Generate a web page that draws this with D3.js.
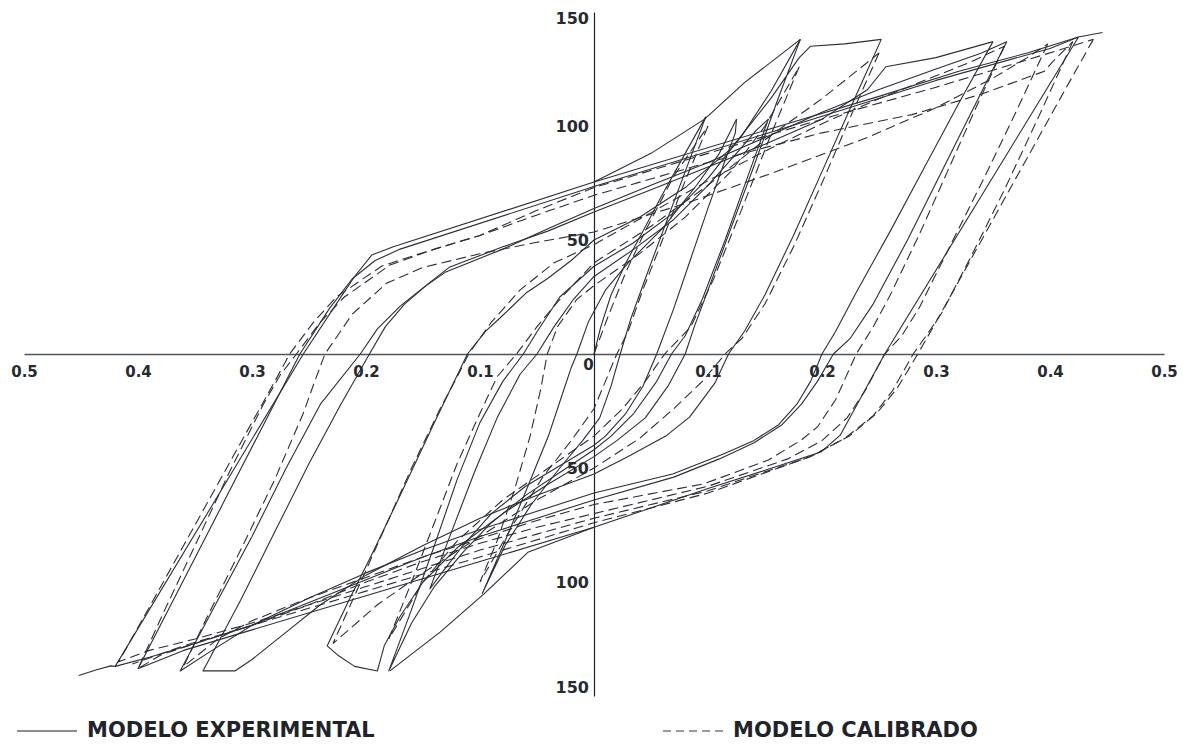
<!DOCTYPE html>
<html>
<head>
<meta charset="utf-8">
<script src="https://cdn.jsdelivr.net/npm/d3@7"></script>
<style>
  html, body { margin: 0; padding: 0; background: #ffffff; }
  svg { display: block; }
  .tick text { font-family: "DejaVu Sans", sans-serif; font-weight: bold; fill: #262a31; }
</style>
</head>
<body>
<svg id="chart" width="1183" height="744"></svg>
<script>
// Axis ticks and their printed labels (magnitudes only, as printed on the chart)
const xTicks = [-0.5, -0.4, -0.3, -0.2, -0.1, 0, 0.1, 0.2, 0.3, 0.4, 0.5];
const xTickLabels = ["0.5", "0.4", "0.3", "0.2", "0.1", "0", "0.1", "0.2", "0.3", "0.4", "0.5"];
const yTicks = [150, 100, 50, -50, -100, -150];
const yTickLabels = ["150", "100", "50", "50", "100", "150"];

const legendLabels = ["MODELO EXPERIMENTAL", "MODELO CALIBRADO"];

// Experimental hysteresis record [displacement, force], one array per cycle
const expVirgin = [[0,0],[0.006,12],[0.015,26],[0.028,40],[0.042,53],[0.06,70],[0.08,88],[0.098,104]];
const expCycle1 = [[0.098,104],[0.08,80],[0.062,56],[0.045,33],[0.032,15],[0.023,0],[0.015,-14],[0.005,-28],[-0.01,-38],[-0.03,-50],[-0.055,-66],[-0.078,-84],[-0.098,-105],
  [-0.078,-82],[-0.058,-58],[-0.04,-36],[-0.028,-18],[-0.02,-6],[-0.015,0],[-0.005,14],[0.01,28],[0.03,40],[0.06,55],[0.09,74],[0.11,88],[0.125,103]];
const expCycle2 = [[0.125,103],[0.124,97],[0.115,85],[0.1,64],[0.085,42],[0.07,20],[0.055,0],[0.043,-14],[0.028,-26],[0.01,-36],[0,-40],[-0.03,-49],[-0.06,-58],[-0.09,-70],[-0.115,-84],[-0.132,-95],[-0.144,-103],
  [-0.125,-78],[-0.105,-52],[-0.085,-28],[-0.065,-9],[-0.05,0],[-0.035,12],[-0.018,24],[0,34],[0.035,46],[0.07,59],[0.1,74],[0.125,88],[0.142,98],[0.153,103]];
const expCycle3 = [[0.153,103],[0.135,78],[0.115,50],[0.095,24],[0.08,8],[0.068,0],[0.055,-12],[0.035,-26],[0.015,-36],[0,-42],[-0.03,-52],[-0.06,-62],[-0.09,-74],[-0.115,-87],[-0.14,-102],[-0.16,-118],[-0.18,-139],
  [-0.16,-112],[-0.14,-84],[-0.12,-55],[-0.1,-30],[-0.08,-12],[-0.062,0],[-0.049,10.5],[-0.03,25],[0,38.5],[0.034,48.6],[0.07,62],[0.1,77],[0.13,96],[0.155,115],[0.181,138]];
const expCycle4 = [[0.181,138],[0.16,110],[0.14,82],[0.12,55],[0.1,28],[0.088,12],[0.08,0],[0.065,-14],[0.045,-28],[0.02,-38],[0,-45],[-0.04,-57],[-0.08,-70],[-0.12,-85],[-0.15,-100],[-0.17,-115],[-0.184,-128],[-0.19,-139],[-0.21,-137],[-0.225,-132],[-0.234,-128],
  [-0.215,-108],[-0.195,-88],[-0.17,-62],[-0.14,-30],[-0.111,0],[-0.095,10],[-0.082,16],[-0.059,27],[-0.041,33],[-0.02,41],[0,50],[0.04,60],[0.08,73],[0.12,90],[0.155,112],[0.18,130],[0.19,135],[0.22,136],[0.252,138]];
const expCycle5 = [[0.252,138],[0.225,108],[0.2,80],[0.175,52],[0.15,26],[0.132,10],[0.118,0],[0.106,-12.8],[0.084,-27.6],[0.063,-36],[0.03,-45],[0,-52.6],[-0.05,-62],[-0.1,-72],[-0.15,-84],[-0.2,-97],[-0.24,-110],[-0.27,-122],[-0.3,-134],[-0.315,-139],[-0.343,-139],
  [-0.31,-108],[-0.28,-78],[-0.25,-48],[-0.222,-22],[-0.197,0],[-0.183,12],[-0.166,22],[-0.145,31],[-0.127,38],[-0.08,47],[-0.04,54],[0,62.3],[0.05,72],[0.1,82],[0.15,92],[0.2,103],[0.24,116],[0.256,126],[0.3,130],[0.35,137]];
const expCycle6 = [[0.35,137],[0.32,110],[0.29,82],[0.26,54],[0.23,27],[0.212,10],[0.2,0],[0.19,-12],[0.178,-22],[0.162,-31],[0.14,-38],[0.113,-44],[0.069,-52.6],[0,-61],[-0.05,-69],[-0.1,-77],[-0.15,-86],[-0.2,-96],[-0.25,-107],[-0.3,-119],[-0.335,-130],[-0.363,-139],
  [-0.33,-108],[-0.3,-80],[-0.27,-50],[-0.24,-22],[-0.205,0],[-0.19,11],[-0.17,21],[-0.15,29],[-0.13,36],[-0.08,46],[-0.04,55],[0,63.8],[0.05,74],[0.1,84],[0.15,95],[0.2,106],[0.25,116],[0.3,125],[0.34,132],[0.362,137]];
const expCycle7 = [[0.362,137],[0.335,110],[0.305,80],[0.275,50],[0.245,22],[0.225,7],[0.21,0],[0.196,-12],[0.182,-22],[0.165,-31],[0.14,-39],[0.11,-46],[0.07,-54],[0,-64],[-0.05,-72],[-0.1,-80],[-0.15,-89],[-0.2,-99],[-0.25,-109],[-0.3,-119],[-0.35,-127],[-0.39,-133],[-0.42,-137],
  [-0.255,0],[-0.226,22],[-0.21,34],[-0.195,43.4],[-0.176,47],[0,75.4],[0.163,100],[0.25,113],[0.32,124],[0.38,132],[0.425,139]];
const expCycle8 = [[0.425,139],[0.255,0],[0.216,-35.6],[0.199,-43],[0.15,-51],[0.1,-59],[0,-76],[-0.1,-91],[-0.2,-106],[-0.3,-121],[-0.36,-130],[-0.4,-138],
  [-0.258,0],[-0.232,20],[-0.212,33],[-0.192,41],[-0.17,46],[0,73.5],[0.163,98.5],[0.3,120],[0.4,134],[0.425,139],[0.446,141]];
const expTailLow = [[-0.42,-137],[-0.424,-136.8],[-0.437,-138.6],[-0.452,-141]];
const expEnvelopeUpper = [[0,75.4],[0.05,88],[0.097,103],[0.132,119],[0.181,138]];
const expEnvelopeLower = [[0,-76],[-0.058,-87],[-0.096,-105],[-0.135,-122],[-0.179,-139]];

// Calibrated model response [displacement, force], one array per cycle
const calVirgin = [[0,0],[0.012,16],[0.028,36],[0.045,54],[0.07,78],[0.1,100]];
const calCycle1 = [[0.1,100],[0.08,76],[0.06,50],[0.042,27],[0.03,10],[0.02,0],[0.01,-12],[0,-24],[-0.02,-38],[-0.045,-54],[-0.07,-74],[-0.1,-100],
  [-0.085,-82],[-0.07,-60],[-0.056,-36],[-0.047,-16],[-0.041,0],[-0.032,12],[-0.015,24],[0,30],[0.04,44],[0.08,60],[0.12,80],[0.15,100],[0.18,126]];
const calCycle2 = [[0.18,126],[0.155,96],[0.13,64],[0.105,33],[0.085,12],[0.062,0],[0.045,-12],[0.025,-24],[0,-36],[-0.04,-50],[-0.08,-64],[-0.12,-82],[-0.15,-100],[-0.18,-125],
  [-0.16,-100],[-0.14,-74],[-0.12,-48],[-0.1,-26],[-0.085,-10],[-0.068,0],[-0.05,12],[-0.03,24],[0,40],[0.05,56],[0.1,74],[0.15,94],[0.2,112],[0.25,132]];
const calCycle3 = [[0.25,132],[0.225,104],[0.2,75],[0.175,47],[0.15,22],[0.13,7],[0.115,0],[0.095,-12],[0.07,-24],[0.04,-37],[0,-50],[-0.05,-64],[-0.1,-80],[-0.15,-96],[-0.19,-110],[-0.229,-127],
  [-0.21,-106],[-0.185,-78],[-0.16,-50],[-0.135,-24],[-0.12,-10],[-0.11,0],[-0.09,14],[-0.065,28],[-0.035,40],[0,48],[0.05,62],[0.1,76],[0.15,89],[0.2,101],[0.25,112],[0.3,122],[0.33,128],[0.36,135]];
const calCycle4 = [[0.36,135],[0.335,108],[0.31,80],[0.285,52],[0.26,26],[0.245,12],[0.23,0],[0.212,-20],[0.196,-32],[0.182,-37.7],[0.153,-46.5],[0.096,-57],[0,-66],[-0.05,-73],[-0.1,-81],[-0.15,-89],[-0.2,-98],[-0.25,-107],[-0.3,-117],[-0.33,-125],[-0.36,-137],
  [-0.34,-116],[-0.31,-86],[-0.28,-55],[-0.255,-26],[-0.245,-12],[-0.236,0],[-0.212,17.5],[-0.182,31],[-0.15,38],[-0.1,44],[-0.05,49],[0,53.5],[0.08,66],[0.16,80],[0.24,95],[0.3,108],[0.35,121],[0.38,130],[0.398,136]];
const calCycle5 = [[0.398,136],[0.37,106],[0.34,75],[0.31,45],[0.285,20],[0.27,8],[0.255,0],[0.238,-16],[0.222,-28],[0.2,-38],[0.17,-46],[0.1,-58],[0,-70],[-0.05,-76],[-0.1,-83],[-0.15,-91],[-0.2,-100],[-0.25,-110],[-0.3,-119],[-0.35,-127],[-0.38,-132],[-0.4,-138],
  [-0.38,-116],[-0.35,-84],[-0.32,-52],[-0.29,-22],[-0.275,-9],[-0.261,0],[-0.24,14],[-0.219,25],[-0.179,39],[-0.14,46],[-0.1,52],[-0.05,61],[0,69.6],[0.1,84],[0.2,97],[0.279,105],[0.34,114],[0.395,124],[0.402,128],[0.42,137]];
const calCycle6 = [[0.42,137],[0.39,104],[0.36,72],[0.33,42],[0.305,18],[0.29,7],[0.28,0],[0.262,-16],[0.245,-27],[0.22,-37],[0.19,-45],[0.1,-60],[0,-72],[-0.05,-79],[-0.1,-86],[-0.15,-94],[-0.2,-102],[-0.25,-110],[-0.3,-118],[-0.35,-125],[-0.39,-130],[-0.417,-135],
  [-0.39,-111],[-0.36,-84],[-0.33,-57],[-0.3,-30],[-0.28,-12],[-0.267,0],[-0.246,14],[-0.226,25],[-0.186,38.6],[-0.153,44],[-0.1,52],[-0.05,63],[0,73],[0.1,88],[0.2,103],[0.3,117],[0.38,129],[0.438,138]];
const calCycle7 = [[0.438,138],[0.41,113],[0.38,86],[0.35,59],[0.32,32],[0.3,14],[0.284,0],[0.266,-15],[0.248,-26],[0.224,-36],[0.19,-45],[0.1,-61],[0,-74],[-0.1,-89],[-0.2,-104],[-0.3,-119],[-0.36,-128],[-0.405,-136]];

const expSeries = [expVirgin, expCycle1, expCycle2, expCycle3, expCycle4, expCycle5, expCycle6, expCycle7, expCycle8, expTailLow, expEnvelopeUpper, expEnvelopeLower];
const calSeries = [calVirgin, calCycle1, calCycle2, calCycle3, calCycle4, calCycle5, calCycle6, calCycle7];

const svg = d3.select("#chart");
const x = d3.scaleLinear().domain([-0.5, 0.5]).range([24, 1164]);
const y = d3.scaleLinear().domain([-150, 150]).range([696, 12]);

// Horizontal axis through zero force
const xAxis = d3.axisBottom(x)
  .tickValues(xTicks)
  .tickSize(0)
  .tickPadding(12)
  .tickFormat((d, i) => xTickLabels[i]);
const gx = svg.append("g").attr("transform", `translate(0,${y(0)})`).call(xAxis);
gx.select(".domain").attr("stroke", "#50555c").attr("stroke-width", 1.5);
gx.selectAll(".tick text").style("font-size", "15px");
gx.selectAll(".tick").filter(d => d === 0).select("text").attr("x", -6).attr("y", 5);

// Vertical axis through zero displacement
const yAxis = d3.axisLeft(y)
  .tickValues(yTicks)
  .tickSize(0)
  .tickPadding(5)
  .tickFormat((d, i) => yTickLabels[i]);
const gy = svg.append("g").attr("transform", `translate(${x(0)},0)`).call(yAxis);
gy.select(".domain").attr("stroke", "#1d2026").attr("stroke-width", 1.2);
gy.selectAll(".tick text").style("font-size", "16px");
gy.selectAll(".tick").filter(d => d === 150).select("text").attr("y", 6);
gy.selectAll(".tick").filter(d => d === -150).select("text").attr("y", -9);

const line = d3.line().x(d => x(d[0])).y(d => y(d[1]));

// Experimental loops: solid
svg.append("g")
  .selectAll("path")
  .data(expSeries)
  .join("path")
  .attr("d", line)
  .attr("fill", "none")
  .attr("stroke", "#2b2e35")
  .attr("stroke-width", 1.1)
  .attr("stroke-linejoin", "round");

// Calibrated model loops: dashed
svg.append("g")
  .selectAll("path")
  .data(calSeries)
  .join("path")
  .attr("d", line)
  .attr("fill", "none")
  .attr("stroke", "#2b2e35")
  .attr("stroke-width", 1.1)
  .attr("stroke-dasharray", "10,5");

// Legend along the bottom edge
const legend = svg.append("g").attr("font-family", "DejaVu Sans, sans-serif").attr("font-weight", "bold");
legend.append("line").attr("x1", 17).attr("x2", 77).attr("y1", 731).attr("y2", 731)
  .attr("stroke", "#8c8c8c").attr("stroke-width", 2);
legend.append("text").attr("x", 87).attr("y", 737).attr("font-size", 21).attr("fill", "#1f232a").text(legendLabels[0]);
legend.append("line").attr("x1", 663).attr("x2", 725).attr("y1", 731).attr("y2", 731)
  .attr("stroke", "#9a9a9a").attr("stroke-width", 2).attr("stroke-dasharray", "8,5");
legend.append("text").attr("x", 733).attr("y", 737).attr("font-size", 21).attr("fill", "#1f232a").text(legendLabels[1]);
</script>
</body>
</html>
